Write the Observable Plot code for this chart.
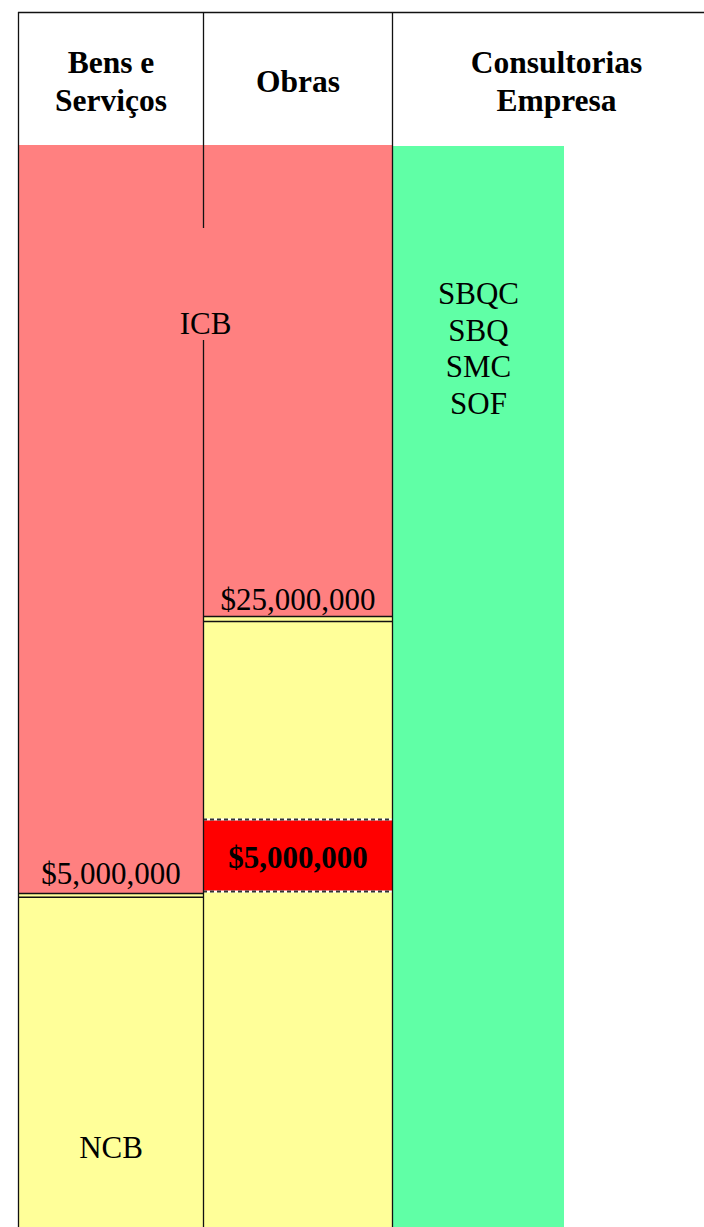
<!DOCTYPE html>
<html>
<head>
<meta charset="utf-8">
<script src="https://cdn.jsdelivr.net/npm/d3@7"></script>
<script src="https://cdn.jsdelivr.net/npm/@observablehq/plot@0.6"></script>
<style>
  html, body { margin: 0; padding: 0; background: #fff; }
  #chart svg { display: block; }
</style>
</head>
<body>
<div id="chart"></div>
<script>
// ---- data (table units: x across the table, y down from the top rule) ----
const columns = ["Bens e\nServiços", "Obras", "Consultorias\nEmpresa"];
const columnEdges = [0, 185, 374, 702];
const tableWidth = 686;
const tableBottom = 1215;
const headerBottom = 133;

const kinds = ["ICB", "NCB", "Consultorias", "Limite"];
const kindColors = ["#ff8080", "#ffff99", "#60ffa6", "#ff0000"];

// procurement method blocks per column
const blocks = [
  {kind: "ICB", col: 0, y1: headerBottom, y2: 881},
  {kind: "ICB", col: 1, y1: headerBottom, y2: 604},
  {kind: "NCB", col: 0, y1: 881, y2: tableBottom},
  {kind: "NCB", col: 1, y1: 604, y2: tableBottom},
  {kind: "Consultorias", col: 2, y1: 134, y2: tableBottom, xEnd: 546},
  {kind: "Limite", col: 1, y1: 807, y2: 879}
];

// threshold double rules
const thresholdRules = [
  {col: 0, y: 881}, {col: 0, y: 884.7},
  {col: 1, y: 604}, {col: 1, y: 609}
];
// dashed borders of the highlighted band
const dashedRules = [{col: 1, y: 807}, {col: 1, y: 879}];

// vertical dividers (segments)
const dividers = [
  {x: 0, y1: 0, y2: tableBottom},
  {x: 185, y1: 0, y2: 216},
  {x: 185, y1: 328, y2: tableBottom},
  {x: 374, y1: 0, y2: tableBottom}
];

// labels: text, centre x, baseline y
const headerLabels = [
  {text: columns[0], col: 0, y: 98},
  {text: columns[1], col: 1, y: 79},
  {text: columns[2], col: 2, y: 98}
];
const bodyLabels = [
  {text: "ICB", x: 187, y: 321},
  {text: "$25,000,000", x: 279.5, y: 597},
  {text: "$5,000,000", x: 92.5, y: 871},
  {text: "NCB", x: 92.5, y: 1145}
];
const boldBodyLabels = [
  {text: "$5,000,000", x: 279.5, y: 855}
];
const consultingMethods = ["SBQC", "SBQ", "SMC", "SOF"];
const consultingLabel = {x: 460, y: 401.5};

// ---- accessors ----
const colX1 = d => columnEdges[d.col];
const colX2 = d => d.xEnd ?? columnEdges[d.col + 1];
const colEnd = d => columnEdges[d.col + 1];
const colMid = d => (columnEdges[d.col] + columnEdges[d.col + 1]) / 2;

const FONT = "Liberation Serif, Times New Roman, serif";

const chart = Plot.plot({
  width: 704,
  height: 1227,
  margin: 0,
  x: {domain: [0, tableWidth], range: [18, 704], axis: null},
  y: {domain: [0, tableBottom], range: [12, 1227], axis: null},
  color: {type: "ordinal", domain: kinds, range: kindColors},
  style: {fontFamily: FONT, background: "#fff", color: "#000"},
  marks: [
    Plot.rect(blocks, {x1: colX1, x2: colX2, y1: "y1", y2: "y2", fill: "kind"}),
    Plot.ruleY(thresholdRules, {y: "y", x1: colX1, x2: colEnd, stroke: "#111", strokeWidth: 1.6}),
    Plot.ruleY(dashedRules, {y: "y", x1: colX1, x2: colEnd, stroke: "#fff", strokeWidth: 2}),
    Plot.ruleY(dashedRules, {y: "y", x1: colX1, x2: colEnd, stroke: "#333", strokeWidth: 2, strokeDasharray: "4,3"}),
    Plot.ruleX(dividers, {x: "x", y1: "y1", y2: "y2", stroke: "#111", strokeWidth: 1.3}),
    Plot.ruleY([0], {x1: 0, x2: tableWidth, stroke: "#111", strokeWidth: 1.3}),
    Plot.text(headerLabels, {
      x: colMid, y: "y", text: "text", lineAnchor: "bottom", lineHeight: 1.19,
      fontSize: 31.5, fontWeight: "bold", fill: "#000"
    }),
    Plot.text(bodyLabels, {
      x: "x", y: "y", text: "text", lineAnchor: "bottom", fontSize: 31, fill: "#000"
    }),
    Plot.text(boldBodyLabels, {
      x: "x", y: "y", text: "text", lineAnchor: "bottom", fontSize: 31, fontWeight: "bold", fill: "#000"
    }),
    Plot.text([consultingMethods.join("\n")], {
      x: () => consultingLabel.x, y: () => consultingLabel.y, text: d => d,
      lineAnchor: "bottom", lineHeight: 1.18, fontSize: 31, fill: "#000"
    })
  ]
});
document.getElementById("chart").appendChild(chart);
</script>
</body>
</html>
